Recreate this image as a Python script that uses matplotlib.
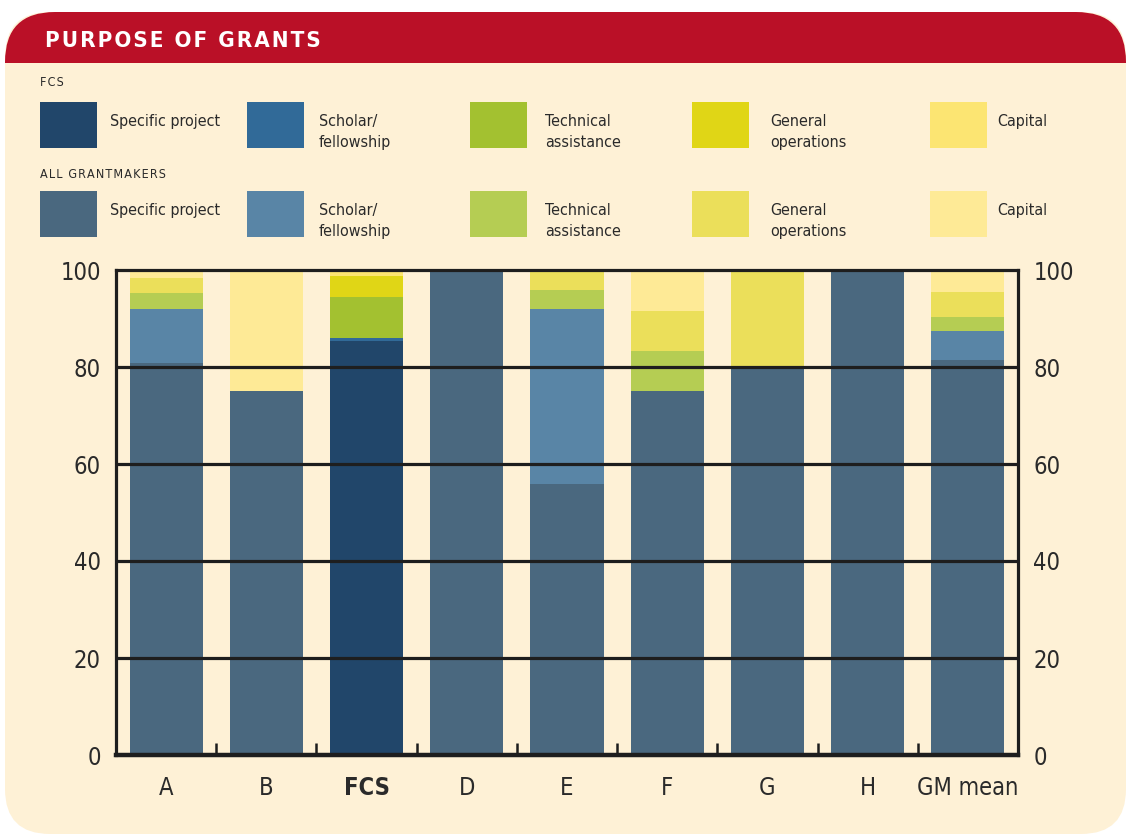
import matplotlib
matplotlib.use("Agg")
import matplotlib.pyplot as plt
from matplotlib.patches import FancyBboxPatch, Rectangle
import numpy as np

plt.rcParams['font.family'] = ['DejaVu Sans']
plt.rcParams['font.stretch'] = 'condensed'

# data (percent of grants)
categories = ["A", "B", "FCS", "D", "E", "F", "G", "H", "GM mean"]
purposes = ["Specific project", "Scholar/\nfellowship", "Technical\nassistance",
            "General\noperations", "Capital"]
specific = [80.8, 75.0, 85.4, 100, 55.9, 75.0, 80.2, 100, 81.4]
scholar = [11.2, 0, 0.6, 0, 36.0, 0, 0, 0, 6.0]
technical = [3.2, 0, 8.4, 0, 4.0, 8.3, 0, 0, 3.0]
general = [3.2, 0, 4.4, 0, 4.1, 8.2, 19.8, 0, 5.1]
capital = [1.6, 25.0, 1.2, 0, 0, 8.5, 0, 0, 4.5]
yticks = [0, 20, 40, 60, 80, 100]

fcs_colors = ["#21466A", "#316A98", "#A3C130", "#E0D616", "#FCE572"]
all_colors = ["#4A687F", "#5985A6", "#B5CD53", "#EBDF5A", "#FEEA96"]
RED = "#BA1027"
CREAM = "#FEF1D6"
INK = "#1E1E1E"
TXT = "#2A2A2A"

W, H = 1129, 838
fig = plt.figure(figsize=(W / 100, H / 100), dpi=100)
fig.patch.set_facecolor("white")

# background / frame drawn in pixel coords
bg = fig.add_axes([0, 0, 1, 1], zorder=0)
bg.set_xlim(0, W)
bg.set_ylim(H, 0)
bg.axis("off")

bg.add_patch(FancyBboxPatch((5, 12), W - 8, H - 16,
                            boxstyle="round,pad=0,rounding_size=45",
                            fc=CREAM, ec="none"))
bg.add_patch(FancyBboxPatch((5, 12), W - 8, 140,
                            boxstyle="round,pad=0,rounding_size=50",
                            fc=RED, ec="none"))
bg.add_patch(Rectangle((5, 63), W - 8, 100, fc=CREAM, ec="none"))

title = "\u200a".join("PURPOSE OF GRANTS")
bg.text(45, 41, title, color="white", fontsize=16, fontweight="bold",
        va="center", ha="left")

# legend
col_sw = [40, 247, 470, 692, 930]
col_tx = [110, 319, 545, 770, 997]
rows = [("FCS", 83, 102, fcs_colors), ("ALL GRANTMAKERS", 174, 191, all_colors)]
for head, hy, sy, cols in rows:
    bg.text(40, hy, "\u200a".join(head), fontsize=9, color=TXT, va="center", ha="left")
    for i in range(5):
        bg.add_patch(Rectangle((col_sw[i], sy), 57, 46, fc=cols[i], ec="none"))
        for j, line in enumerate(purposes[i].split("\n")):
            bg.text(col_tx[i], sy + 24 + 21 * j, line, fontsize=11.5, color=TXT,
                    va="baseline", ha="left")

# main chart
ax = fig.add_axes([116 / W, (H - 755) / H, 902 / W, 485 / H], zorder=2)
ax.set_facecolor("none")
x = np.arange(len(categories))
series = [specific, scholar, technical, general, capital]
bottom = np.zeros(len(categories))
for k, vals in enumerate(series):
    vals = np.array(vals, dtype=float)
    cols = [fcs_colors[k] if c == "FCS" else all_colors[k] for c in categories]
    ax.bar(x, vals, width=0.73, bottom=bottom, color=cols, edgecolor="none", zorder=1)
    bottom += vals

ax.set_xlim(-0.5, len(categories) - 0.5)
ax.set_ylim(0, 100)
for yv in yticks[1:-1]:
    ax.axhline(yv, color=INK, lw=2.3, zorder=3)
for s in ax.spines.values():
    s.set_color(INK)
    s.set_linewidth(2.3)
    s.set_zorder(4)
ax.spines["bottom"].set_linewidth(3.2)

ax.set_yticks(yticks)
ax.set_yticklabels([str(v) for v in yticks])
ax.tick_params(axis="y", length=0, labelsize=17, colors=TXT, pad=11,
               left=True, right=True, labelleft=True, labelright=True)
ax.set_xticks(x)
ax.set_xticklabels(categories)
ax.tick_params(axis="x", which="major", length=0, labelsize=17, colors=TXT, pad=15)
ax.set_xticks(x[:-1] + 0.5, minor=True)
ax.tick_params(axis="x", which="minor", direction="in", length=9, width=1.8, color=INK)
for lbl in ax.get_xticklabels():
    if lbl.get_text() == "FCS":
        lbl.set_fontweight("bold")

fig.savefig("out.png", dpi=100, facecolor=fig.get_facecolor())
